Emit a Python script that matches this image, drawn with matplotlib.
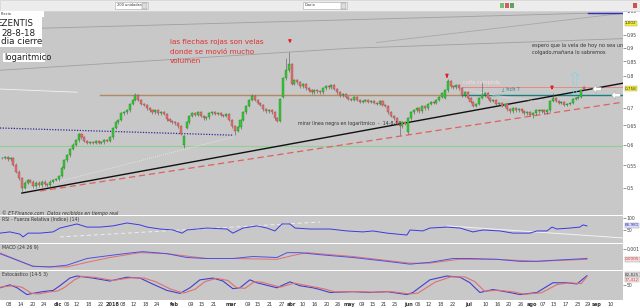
import matplotlib.pyplot as plt
from matplotlib.patches import Rectangle
from matplotlib.ticker import NullLocator

# EZENTIS daily closes, ~8 nov 2017 -> 28 ago 2018 (trading-day index)
closes = [
    0.567, 0.569, 0.564, 0.567, 0.551, 0.535, 0.521, 0.500, 0.511, 0.517,
    0.513, 0.504, 0.511, 0.506, 0.513, 0.508, 0.506, 0.513, 0.517, 0.519,
    0.526, 0.544, 0.562, 0.574, 0.589, 0.599, 0.611, 0.627, 0.619, 0.609,
    0.604, 0.606, 0.604, 0.609, 0.604, 0.606, 0.611, 0.609, 0.619, 0.643,
    0.659, 0.665, 0.684, 0.687, 0.693, 0.711, 0.723, 0.738, 0.723, 0.711,
    0.708, 0.699, 0.693, 0.687, 0.693, 0.684, 0.687, 0.682, 0.667, 0.662,
    0.659, 0.656, 0.648, 0.627, 0.621, 0.659, 0.676, 0.684, 0.679, 0.687,
    0.676, 0.670, 0.673, 0.684, 0.687, 0.682, 0.684, 0.679, 0.676, 0.682,
    0.665, 0.648, 0.635, 0.645, 0.665, 0.687, 0.705, 0.723, 0.735, 0.723,
    0.714, 0.708, 0.696, 0.690, 0.693, 0.687, 0.670, 0.662, 0.726, 0.792,
    0.819, 0.840, 0.773, 0.786, 0.779, 0.766, 0.773, 0.760, 0.753, 0.747,
    0.753, 0.750, 0.747, 0.760, 0.766, 0.763, 0.769, 0.757, 0.747, 0.738,
    0.741, 0.732, 0.726, 0.723, 0.732, 0.723, 0.717, 0.720, 0.723, 0.717,
    0.720, 0.714, 0.711, 0.720, 0.708, 0.705, 0.687, 0.676, 0.670, 0.654,
    0.648, 0.659, 0.654, 0.670, 0.687, 0.693, 0.699, 0.690, 0.705, 0.699,
    0.711, 0.717, 0.714, 0.723, 0.732, 0.744, 0.753, 0.782, 0.766, 0.763,
    0.769, 0.760, 0.738, 0.747, 0.729, 0.717, 0.705, 0.711, 0.729, 0.738,
    0.744, 0.729, 0.720, 0.723, 0.711, 0.714, 0.705, 0.711, 0.696, 0.690,
    0.699, 0.693, 0.696, 0.690, 0.684, 0.687, 0.679, 0.684, 0.693, 0.690,
    0.693, 0.687, 0.693, 0.720, 0.729, 0.720, 0.714, 0.717, 0.708, 0.711,
    0.714, 0.726, 0.729, 0.732, 0.753, 0.758,
]
open_gaps = {64: 0.599, 65: 0.643, 99: 0.732, 143: 0.632, 156: 0.729, 205: 0.763}
spike_high = {47: 0.745, 88: 0.742, 100: 0.862, 101: 0.883, 157: 0.790,
              169: 0.779, 194: 0.745}
spike_low = {7: 0.492, 64: 0.591, 82: 0.625, 140: 0.624, 187: 0.670}

date_pos = [2.5, 6.7, 10.9, 14.8, 19.7, 22.9, 26.4, 30.6, 34.9, 39.1, 42.6, 46.5,
            50.7, 54.6, 60.6, 66.5, 70.4, 74.6, 80.6, 86.6, 90.1, 94.4, 98.6,
            101.8, 106, 110.2, 114.4, 118.3, 122.2, 126.8, 130.6, 134.5, 138.4,
            143.3, 146.5, 150.4, 154.6, 158.8, 164.4, 170.4, 174.6, 178.5,
            182.7, 186.6, 190.5, 194.4, 198.6, 202.8, 206.3, 209.5, 214.4]
date_lbl = ["08", "14", "20", "24", "dic", "06", "12", "18", "22", "2018", "08",
            "12", "18", "24", "feb", "09", "15", "21", "mar", "09", "15", "21",
            "27", "abr", "10", "16", "20", "26", "may", "09", "15", "21", "25",
            "jun", "06", "12", "18", "22", "jul", "10", "16", "20", "26", "ago",
            "07", "13", "17", "23", "29", "sep", "10"]
months = {"dic", "2018", "feb", "mar", "abr", "may", "jun", "jul", "ago", "sep"}

rsi_idx = [-0.7, 2.8, 6.3, 7.4, 9.2, 13.4, 18, 20.4, 26.4, 29.9, 34.5, 39.1, 44,
           48.6, 51.1, 55.6, 60.2, 63.4, 65.1, 72.2, 79.2, 81.3, 84.9, 89.8,
           93.3, 96.1, 98.6, 101.4, 103.2, 108.5, 112, 115.5, 121.5, 127.1,
           130.6, 135.6, 142.6, 143.7, 148.2, 150.7, 156.7, 161.3, 165.8,
           169.4, 175.4, 179.9, 185.9, 188.4, 191.9, 193.7, 195.4, 200, 203.5,
           204.6, 206]
rsi_val = [37, 42, 33, 21, 37, 37, 42, 58, 75, 62, 62, 67, 79, 71, 62, 54, 50,
           37, 50, 58, 54, 37, 58, 67, 58, 46, 75, 75, 58, 54, 54, 54, 46, 42,
           46, 37, 29, 50, 46, 58, 62, 58, 42, 50, 46, 37, 37, 46, 46, 62, 54,
           58, 62, 71, 67]

macd_idx = [-0.7, 10.9, 16.9, 22.9, 29.9, 38, 46.1, 49.6, 58.1, 65.1, 72.2,
            81.3, 88.4, 96.8, 100.4, 104.9, 112, 123.6, 135.6, 143.7, 150.7,
            158.8, 164.8, 174.3, 182.4, 188.4, 194, 206]
macd_val = [0.00076, 0.00014, 0.00010, 0.00019, 0.00052, 0.00067, 0.00081,
            0.00086, 0.00076, 0.00057, 0.00052, 0.00052, 0.00062, 0.00057,
            0.00081, 0.00081, 0.00071, 0.00057, 0.00038, 0.00024, 0.00033,
            0.00052, 0.00052, 0.00048, 0.00038, 0.00038, 0.00043, 0.00052]
sig_idx = [-0.7, 10.9, 22.9, 29.9, 38, 48.6, 58.1, 72.2, 81.3, 96.8, 102.4,
           107.4, 123.6, 143.7, 150.7, 160.8, 174.3, 188.4, 206]
sig_val = [0.00080, 0.00012, 0.00010, 0.00033, 0.00057, 0.00081, 0.00076,
           0.00052, 0.00052, 0.00048, 0.00067, 0.00081, 0.00062, 0.00029,
           0.00029, 0.00048, 0.00048, 0.00038, 0.00048]

stk_idx = [-0.7, 2.8, 5.3, 8.8, 10.9, 14.4, 18, 20.4, 23.9, 26.4, 32, 38, 44,
           48.6, 52.1, 58.1, 62.7, 66.2, 69.7, 74.3, 77.8, 81.3, 83.8, 87.3,
           89.8, 96.8, 101.4, 104.9, 109.5, 112, 115.5, 123.6, 129.6, 135.6,
           142.6, 144.7, 150.7, 156.7, 161.3, 164.8, 168.3, 172.9, 178.9,
           182.4, 188.4, 194, 198.9, 202.5, 206]
stk_val = [39, 49, 39, 16, 20, 26, 30, 46, 72, 79, 72, 62, 75, 72, 56, 30, 20,
           39, 66, 72, 62, 36, 39, 66, 56, 39, 59, 46, 39, 33, 23, 26, 23, 26,
           16, 23, 66, 79, 75, 56, 23, 33, 23, 16, 23, 56, 56, 52, 80]
std_idx = [-0.7, 4, 7, 10.5, 13, 16, 19.5, 22, 25.5, 28, 33, 39, 45.5, 50,
           54, 59.5, 64, 68, 71.5, 75.5, 79.5, 82.5, 85.5, 89, 91.5, 98,
           103, 106, 111, 114, 117, 125, 131, 137, 143.5, 146.5, 152.5, 158,
           163, 166.5, 170, 174.5, 180, 184, 190, 195.5, 200, 204, 206]
std_val = [41, 46, 41, 20, 18, 24, 28, 40, 66, 78, 74, 64, 73, 72, 60, 34, 21,
           34, 60, 71, 64, 40, 37, 60, 58, 41, 55, 49, 40, 34, 25, 26, 24, 26,
           18, 21, 58, 76, 76, 60, 27, 31, 25, 17, 22, 50, 56, 53, 77]

BG = "#c8c8c8"
W, H = 640, 308
XL = (-0.7, 218.7)

plt.rcParams["font.family"] = ["DejaVu Sans"]
fig = plt.figure(figsize=(6.4, 3.08), dpi=100)
fig.patch.set_facecolor("white")


def px_axes(x0, y0, x1, y1):
    return fig.add_axes([x0 / W, 1 - y1 / H, (x1 - x0) / W, (y1 - y0) / H])


def ftext(x, y, s, **kw):
    fig.text(x / W, 1 - y / H, s, va="center", **kw)


def style(a):
    a.set_facecolor(BG)
    a.set_xlim(*XL)
    for s in a.spines.values():
        s.set_visible(False)
    a.yaxis.tick_right()
    a.tick_params(axis="y", labelsize=3.3, length=2, width=0.4, pad=0.8,
                  colors="#444444")
    a.tick_params(axis="x", length=0, labelbottom=False)


def tag(a, y, s, fc, tc="#333333"):
    a.text(1.003, y, s, transform=a.get_yaxis_transform(), fontsize=3.0,
           color=tc, va="center", ha="left",
           bbox=dict(fc=fc, ec="#999999", lw=0.3, pad=0.25))


# ---------------- main price panel ----------------
ax = px_axes(0, 10.5, 623, 215)
style(ax)
ax.set_yscale("log")
ax.set_ylim(0.4466, 1.052)
yt = [0.5, 0.55, 0.6, 0.65, 0.7, 0.8, 0.85, 0.9, 0.95, 1.05]
ax.set_yticks(yt)
ax.set_yticklabels(["0,5", "0,55", "0,6", "0,65", "0,7", "0,8", "0,85",
                    "0,9", "0,95", "1,05"])
ax.yaxis.set_minor_locator(NullLocator())

# drawn lines (trend / support)
ax.plot([-0.7, 218.7], [0.596, 0.596], color="#8fd08f", lw=0.8)
ax.plot([34.5, 162], [0.738, 0.738], color="#b08a60", lw=1.0)
ax.plot([162, 218.7], [0.738, 0.738], color="#1a7f80", lw=1.0)
ax.plot([162, 218.7], [0.765, 0.765], color="#e88888", lw=0.7)
ax.plot([-0.7, 81.3], [0.643, 0.624], color="#2a2a9a", lw=0.9, ls=(0, (1, 1.2)))
ax.plot([7, 81.3], [0.494, 0.619], color="#eeeeee", lw=0.6, ls=(0, (1, 1.5)))
ax.plot([7, 218.7], [0.4896, 0.7758], color="#111111", lw=1.0)
ax.plot([13.4, 218.7], [0.4938, 0.7166], color="#e06060", lw=0.9, ls=(0, (5, 3)))
ax.plot([-0.7, 206.3], [0.972, 1.040], color="#a0a0a0", lw=0.6)
ax.plot([-0.7, 122.5, 218.7], [0.819, 0.898, 0.935], color="#a0a0a0", lw=0.6)
ax.plot([132, 218.7], [0.920, 1.040], color="#a8a8a8", lw=0.6)
ax.plot([-0.7, 26.4], [0.757, 0.747], color="#f2f2f2", lw=0.6)
ax.plot([206.3, 218.7], [1.040, 1.040], color="#3030c0", lw=1.0)
ax.plot([162, 169, 180], [0.757, 0.745, 0.725], color="#f4dede", lw=0.5,
        ls=(0, (1, 1)))
ax.plot([168, 178, 190], [0.748, 0.732, 0.718], color="#f4dede", lw=0.5,
        ls=(0, (1, 1)))

# candles
prev = closes[0]
for i, c in enumerate(closes):
    o = open_gaps.get(i, prev)
    top, bot = max(o, c), min(o, c)
    hi = spike_high.get(i, top * 1.006)
    lo = spike_low.get(i, bot * 0.994)
    col = "#33cc33" if c >= o else "#e07070"
    ec = "#1e7a1e" if c >= o else "#a04040"
    ax.vlines(i, lo, hi, color="#555555", lw=0.4, zorder=3)
    ax.bar(i, max(top - bot, top * 0.002), bottom=bot, width=0.72, color=col,
           edgecolor=ec, linewidth=0.25, zorder=4)
    prev = c

# arrows
for xi, y0, y1 in [(101.4, 0.941, 0.906), (156.7, 0.806, 0.784),
                   (193.7, 0.768, 0.746)]:
    ax.annotate("", xy=(xi, y1), xytext=(xi, y0),
                arrowprops=dict(arrowstyle="-|>", color="#e02020", lw=0.9,
                                mutation_scale=4))
ax.annotate("", xy=(201.8, 0.822), xytext=(201.8, 0.733),
            arrowprops=dict(arrowstyle="simple,head_width=1.2,tail_width=0.5",
                            fc="none", ec="#7fd8e0", lw=0.5, mutation_scale=5))
for xi, yy in [(209.5, 0.757), (216.2, 0.738)]:
    ax.annotate("", xy=(xi - 2.5, yy), xytext=(xi + 2.5, yy),
                arrowprops=dict(arrowstyle="simple,head_width=1.2,tail_width=0.5",
                                fc="white", ec="#999999", lw=0.3,
                                mutation_scale=5))

tag(ax, 0.758, "0,758", "#f0f030")
tag(ax, 0.997, "1,002", "#f0f030")

# ---------------- RSI ----------------
ax_rsi = px_axes(0, 216, 623, 243)
style(ax_rsi)
ax_rsi.set_ylim(-4, 108)
ax_rsi.set_yticks([50, 100])
ax_rsi.set_yticklabels(["50", "100"])
ax_rsi.plot([20.4, 112], [21, 83], color="#eeeeee", lw=0.7, ls=(0, (4, 3)))
ax_rsi.plot([156.7, 218.7], [67, 17], color="#f2f2f2", lw=0.7)
ax_rsi.plot(rsi_idx, rsi_val, color="#3a3ae0", lw=0.7)
tag(ax_rsi, 69, "66,981", "#dde0f5", "#3030c0")

# ---------------- MACD ----------------
ax_macd = px_axes(0, 244, 623, 270)
style(ax_macd)
ax_macd.set_ylim(-0.00005, 0.00124)
ax_macd.set_yticks([0.001])
ax_macd.set_yticklabels(["0,001"])
ax_macd.plot(sig_idx, sig_val, color="#e07070", lw=0.7)
ax_macd.plot(macd_idx, macd_val, color="#5050e0", lw=0.7)
tag(ax_macd, 0.00048, "0,0005", "#f5dcdc", "#d04040")

# ---------------- Estocastico ----------------
ax_sto = px_axes(0, 271, 623, 300)
style(ax_sto)
ax_sto.set_ylim(-2.5, 96)
ax_sto.set_yticks([50])
ax_sto.set_yticklabels(["50"])
ax_sto.plot(stk_idx, stk_val, color="#4040d0", lw=0.8)
ax_sto.plot(std_idx, std_val, color="#e07070", lw=0.8)
tag(ax_sto, 84, "82,825", "#dddddd", "#333333")
tag(ax_sto, 67, "77,412", "#f2e4e4", "#d04040")
ax_sto.set_xticks(date_pos)
ax_sto.set_xticklabels(date_lbl)
ax_sto.tick_params(axis="x", labelbottom=True, labelsize=3.6, pad=1.5,
                   colors="#333333", length=0)
for t in ax_sto.get_xticklabels():
    if t.get_text() in months:
        t.set_fontweight("bold")

# panel captions
ftext(2, 213, "© ET-Finance.com  Datos recibidos en tiempo real", fontsize=3.3,
      color="#333333", style="italic")
ftext(2, 220, "RSI - Fuerza Relativa (Indice) (14)", fontsize=3.3, color="#333333")
ftext(2, 247.5, "MACD (24 26 9)", fontsize=3.3, color="#333333")
ftext(2, 274, "Estocástico (14-5 3)", fontsize=3.3, color="#333333")

# ---------------- toolbar and boxes ----------------
fig.patches.append(Rectangle((0, 1 - 10.5 / H), 1, 10.5 / H, transform=fig.transFigure,
                             fc="#ececec", ec="#cfcfcf", lw=0.5))
for x0, x1, s in [(115, 148, "200 unidades"), (303, 347, "Diario")]:
    fig.patches.append(Rectangle((x0 / W, 1 - 9 / H), (x1 - x0) / W, 7 / H,
                                 transform=fig.transFigure, fc="white",
                                 ec="#aaaaaa", lw=0.4))
    fig.patches.append(Rectangle(((x1 - 6) / W, 1 - 8.5 / H), 5 / W, 6 / H,
                                 transform=fig.transFigure, fc="#dddddd",
                                 ec="#888888", lw=0.3))
    ftext(x0 + 2, 5.5, s, fontsize=2.6, color="#333333")
for x0, c in [(500, "#7ac070"), (505, "#d06060"), (510, "#60a060"), (633, "#d05050")]:
    fig.patches.append(Rectangle((x0 / W, 1 - 8 / H), 4 / W, 5 / H,
                                 transform=fig.transFigure, fc=c, ec="none"))

fig.patches.append(Rectangle((0, 1 - 17 / H), 44 / W, 5.5 / H, transform=fig.transFigure,
                             fc="white", ec="none", zorder=5))
ftext(1, 14.2, "Precio", fontsize=2.6, color="#333333", zorder=6)
fig.patches.append(Rectangle((0, 1 - 47 / H), 42 / W, 30 / H, transform=fig.transFigure,
                             fc="white", ec="none", zorder=5))
ftext(-4, 24, "EZENTIS", fontsize=6.3, color="#222222", zorder=6)
ftext(1, 33, "28-8-18", fontsize=6.3, color="#222222", zorder=6)
ftext(1, 42, "dia cierre", fontsize=6.3, color="#222222", zorder=6)
fig.patches.append(Rectangle((3 / W, 1 - 62 / H), 42 / W, 9 / H, transform=fig.transFigure,
                             fc="white", ec="none", zorder=5))
ftext(4, 57.5, "logaritmico", fontsize=6.0, color="#222222", zorder=6)

# annotations on the chart
for yy, s in [(42, "las flechas rojas son velas"), (52, "donde se movió mucho"),
              (61, "volumen")]:
    ftext(170, yy, s, fontsize=5.2, color="#e03030")
ftext(298, 123, "mirar linea negra en logaritmico  -  14-8-18", fontsize=3.4,
      color="#333333")
ftext(532, 45, "espero que la vela de hoy no sea un", fontsize=3.6, color="#333333")
ftext(532, 52.5, "colgado,mañana lo sabremos", fontsize=3.6, color="#333333")
ftext(463, 83, "cuña cumplida", fontsize=3.6, color="#f6e0e0")
ftext(502, 89.5, "¿ hch ?", fontsize=3.6, color="#1a7f80")

fig.savefig("out.png", dpi=100, facecolor="white")
